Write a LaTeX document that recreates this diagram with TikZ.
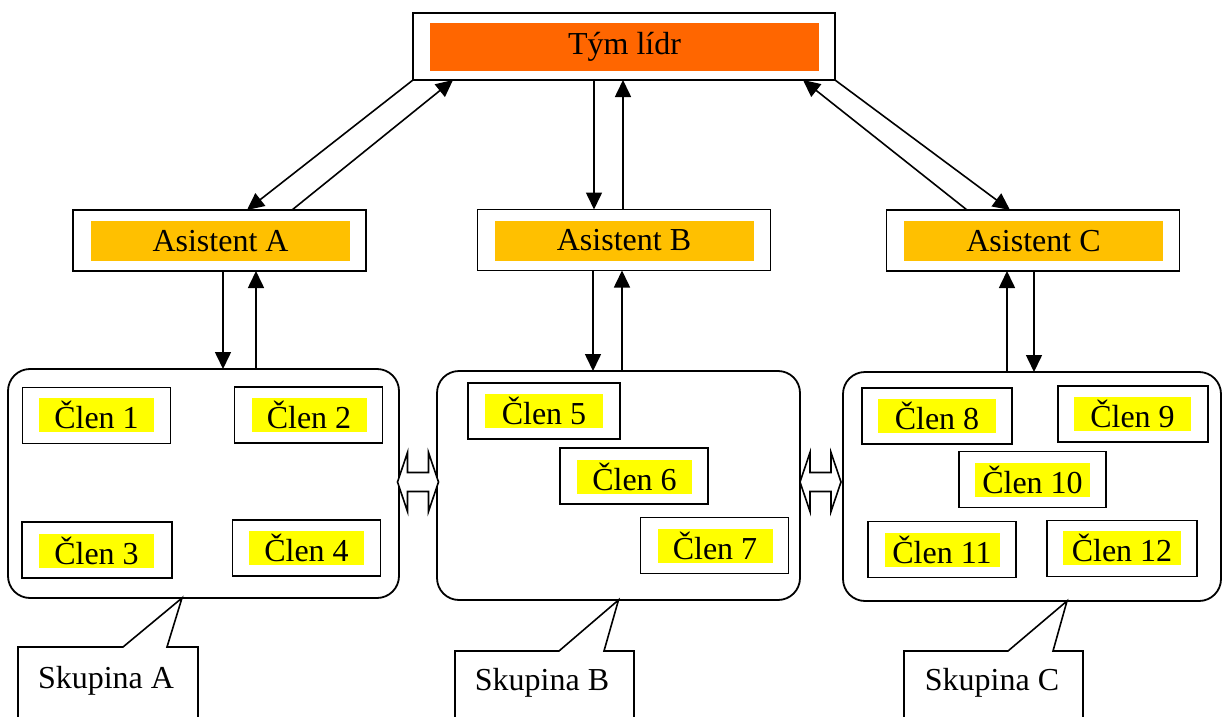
\documentclass[tikz,border=0pt]{standalone}
\usepackage{fontspec}
\setmainfont{Liberation Serif}
\usetikzlibrary{arrows.meta,calc}
\definecolor{leadc}{HTML}{FF6600}
\definecolor{asc}{HTML}{FFC000}
\definecolor{memc}{HTML}{FFFF00}
\begin{document}
\begin{tikzpicture}[x=1pt,y=-1pt,
  every node/.style={font=\fontsize{32}{36}\selectfont, inner sep=0pt, outer sep=0pt},
  frame/.style={draw, fill=white, line width=1.8pt},
  fillbox/.style={fill=#1, text=black},
  groupbox/.style={draw, line width=1.8pt, rounded corners=22pt, minimum height=229pt},
  memframe/.style={frame, minimum width=148pt, minimum height=56pt},
  memfill/.style={fillbox=memc, minimum width=115pt, minimum height=34pt},
  asframe/.style={frame, minimum width=293pt, minimum height=61pt},
  asfill/.style={fillbox=asc, minimum width=259pt, minimum height=40pt},
  arr/.style={-{Triangle[length=17pt,width=16pt]}, line width=1.6pt},
  callout/.style={draw, fill=white, line width=1.6pt, line join=miter},
  dblarrow/.style={draw, fill=white, line width=1.6pt},
]
\useasboundingbox (0,0) rectangle (1224,717);
\clip (0,0) rectangle (1224,717);

% team leader
\node[frame, minimum width=422pt, minimum height=67pt] (lead) at (624,46.5) {};
\node[fillbox=leadc, minimum width=389pt, minimum height=48pt] (leadt) at (624.5,47) {Tým lídr};

% assistants
\node[asframe] (asA) at (219.5,240.5) {};
\node[asfill] (asAt) at (220.5,241) {Asistent A};
\node[asframe] (asB) at (624,240) {};
\node[asfill] (asBt) at (624,240.5) {Asistent B};
\node[asframe] (asC) at (1033,240.5) {};
\node[asfill] (asCt) at (1033.5,241) {Asistent C};

% groups
\node[groupbox, minimum width=391pt] (gA) at (203.5,483.5) {};
\node[groupbox, minimum width=363pt] (gB) at (618.5,485.5) {};
\node[groupbox, minimum width=378pt] (gC) at (1032,486.5) {};

% members group A
\node[memframe] (m1o) at (96.5,415.5) {};
\node[memfill] (m1) at (96.5,415) {Člen 1};
\node[memframe] (m2o) at (308.5,415) {};
\node[memfill] (m2) at (309,415) {Člen 2};
\node[memframe, minimum width=150pt] (m3o) at (97,550) {};
\node[memfill] (m3) at (96.5,550.5) {Člen 3};
\node[memframe] (m4o) at (306.5,548) {};
\node[memfill] (m4) at (306.5,547.5) {Člen 4};
% members group B
\node[memframe, minimum width=152pt] (m5o) at (544,411) {};
\node[memfill, minimum width=118pt] (m5) at (544,411) {Člen 5};
\node[memframe] (m6o) at (634,476) {};
\node[memfill] (m6) at (634.5,476.5) {Člen 6};
\node[memframe] (m7o) at (714.5,545.5) {};
\node[memfill] (m7) at (715,545.5) {Člen 7};
% members group C
\node[memframe, minimum width=150pt] (m8o) at (937,416) {};
\node[memfill, minimum width=118pt] (m8) at (937,416) {Člen 8};
\node[memframe, minimum width=150pt] (m9o) at (1133,414) {};
\node[memfill, minimum width=117pt] (m9) at (1132.5,414) {Člen 9};
\node[memframe, minimum width=147pt] (m10o) at (1032.5,479.5) {};
\node[memfill] (m10) at (1032.5,479.5) {Člen 10};
\node[memframe] (m11o) at (942,549.5) {};
\node[memfill] (m11) at (942,549.5) {Člen 11};
\node[memframe, minimum width=150pt] (m12o) at (1122,548.5) {};
\node[memfill, minimum width=118pt] (m12) at (1122,547.5) {Člen 12};

% leader <-> assistants
\draw[arr] (lead.south west) -- ([xshift=27.5pt]asA.north);
\draw[arr] ([xshift=72.5pt]asA.north) -- ([xshift=40pt]lead.south west);
\draw[arr] ([xshift=-30pt]lead.south) -- ([xshift=-30pt]asB.north);
\draw[arr] ([xshift=-1pt]asB.north) -- ([xshift=-1pt]lead.south);
\draw[arr] (lead.south east) -- ([xshift=-23pt]asC.north);
\draw[arr] ([xshift=-66pt]asC.north) -- ([xshift=-32pt]lead.south east);

% assistants <-> groups
\draw[arr] ([xshift=3.5pt]asA.south) -- ([xshift=3.5pt]asA.south |- gA.north);
\draw[arr] ([xshift=36.5pt]asA.south |- gA.north) -- ([xshift=36.5pt]asA.south);
\draw[arr] ([xshift=-31pt]asB.south) -- ([xshift=-31pt]asB.south |- gB.north);
\draw[arr] ([xshift=-2pt]asB.south |- gB.north) -- ([xshift=-2pt]asB.south);
\draw[arr] ([xshift=-26pt]asC.south |- gC.north) -- ([xshift=-26pt]asC.south);
\draw[arr] ([xshift=1pt]asC.south) -- ([xshift=1pt]asC.south |- gC.north);

% double arrows between groups
\coordinate (dab) at (418,482);
\coordinate (dbc) at (820.5,482);
\foreach \c in {dab,dbc}{
  \draw[dblarrow] ($(\c)+(-20.5,0)$) -- ($(\c)+(-10.5,-29.5)$) -- ($(\c)+(-10.5,-9.5)$)
    -- ($(\c)+(10.5,-9.5)$) -- ($(\c)+(10.5,-29.5)$) -- ($(\c)+(20.5,0)$)
    -- ($(\c)+(10.5,29.5)$) -- ($(\c)+(10.5,9.5)$) -- ($(\c)+(-10.5,9.5)$)
    -- ($(\c)+(-10.5,29.5)$) -- cycle;
}

% callouts
\coordinate (tA) at ([xshift=-21.5pt]gA.south);
\draw[callout] (18,740) -- (18,647) -- (123,647) -- (tA) -- (167,647) -- (198,647) -- (198,740);
\node[anchor=base] (sA) at (106,688) {Skupina A};
\coordinate (tB) at (gB.south);
\draw[callout] (455,740) -- (455,651) -- (559,651) -- (tB) -- (604,651) -- (634,651) -- (634,740);
\node[anchor=base] (sB) at (542,690) {Skupina B};
\coordinate (tC) at ([xshift=35pt]gC.south);
\draw[callout] (904,740) -- (904,651) -- (1008,651) -- (tC) -- (1053,651) -- (1083,651) -- (1083,740);
\node[anchor=base] (sC) at (992,690) {Skupina C};
\end{tikzpicture}
\end{document}
